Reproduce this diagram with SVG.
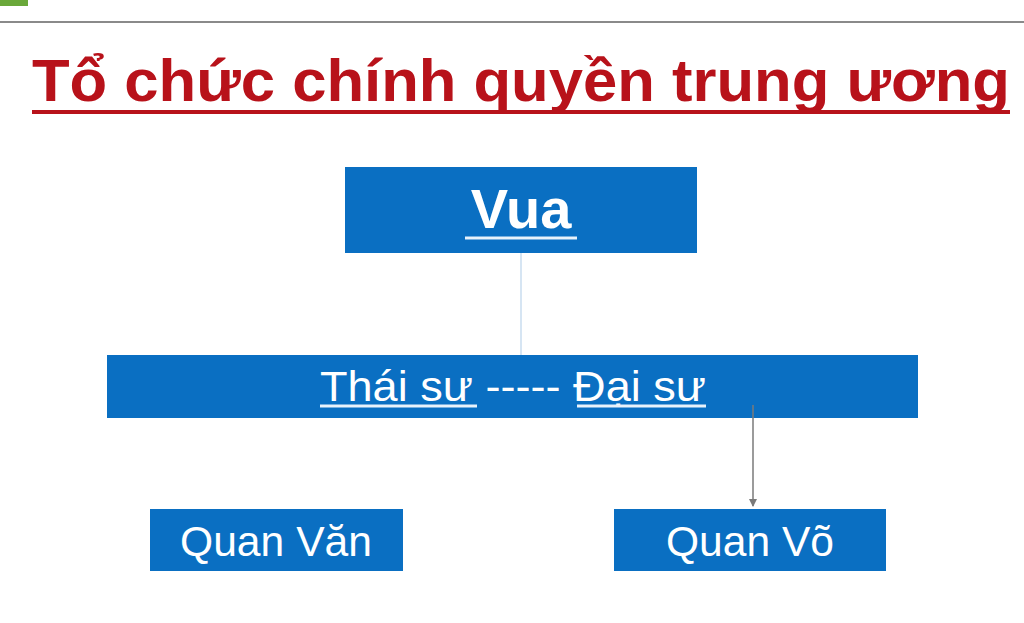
<svg xmlns="http://www.w3.org/2000/svg" width="1024" height="623" viewBox="0 0 1024 623">
<style>
.box{fill:#0a6fc2}
.t{font-family:"Liberation Sans",Arial,sans-serif;fill:#ffffff}
.ul{stroke:#e8f2fb;stroke-width:3}
</style>
<defs>
<marker id="arr" markerWidth="8" markerHeight="8" refX="7" refY="4" orient="auto" markerUnits="userSpaceOnUse">
<path d="M0,0 L8,4 L0,8 z" fill="#7a7a7a"/>
</marker>
</defs>
<rect width="1024" height="623" fill="#ffffff"/>
<rect x="0" y="0" width="28" height="6" fill="#6aa83a"/>
<line x1="0" y1="22" x2="1024" y2="22" stroke="#8a8a8a" stroke-width="2"/>
<g id="title">
<text x="32" y="101" font-family="Liberation Sans,Arial,sans-serif" font-weight="bold" font-size="60" fill="#b8121a" textLength="978" lengthAdjust="spacingAndGlyphs">Tổ chức chính quyền trung ương</text>
<line x1="32" y1="112" x2="1010" y2="112" stroke="#b8121a" stroke-width="4"/>
</g>
<g id="connectors">
<line x1="521" y1="253" x2="521" y2="355" stroke="#c9dcef" stroke-width="1.5"/>
<line x1="753" y1="405" x2="753" y2="506" stroke="#7a7a7a" stroke-width="1.5" marker-end="url(#arr)"/>
</g>
<g id="vua">
<rect class="box" x="345" y="167" width="352" height="86"/>
<text class="t" x="521" y="228" font-size="56" font-weight="bold" text-anchor="middle">Vua</text>
<line class="ul" x1="465" y1="238" x2="577" y2="238" stroke-width="4"/>
</g>
<g id="thaisu-daisu">
<rect class="box" x="107" y="355" width="811" height="63"/>
<text class="t" x="320" y="401" font-size="42" textLength="386" lengthAdjust="spacingAndGlyphs">Thái sư ----- Đại sư</text>
<line class="ul" x1="320" y1="406" x2="477" y2="406"/>
<line class="ul" x1="577" y1="406" x2="706" y2="406"/>
</g>
<line x1="753" y1="405" x2="753" y2="418" stroke="#7a7a7a" stroke-width="1.5"/>
<g id="quan-van">
<rect class="box" x="150" y="509" width="253" height="62"/>
<text class="t" x="276" y="556" font-size="42" text-anchor="middle" textLength="192" lengthAdjust="spacingAndGlyphs">Quan Văn</text>
</g>
<g id="quan-vo">
<rect class="box" x="614" y="509" width="272" height="62"/>
<text class="t" x="750" y="556" font-size="42" text-anchor="middle" textLength="168" lengthAdjust="spacingAndGlyphs">Quan Võ</text>
</g>
</svg>
